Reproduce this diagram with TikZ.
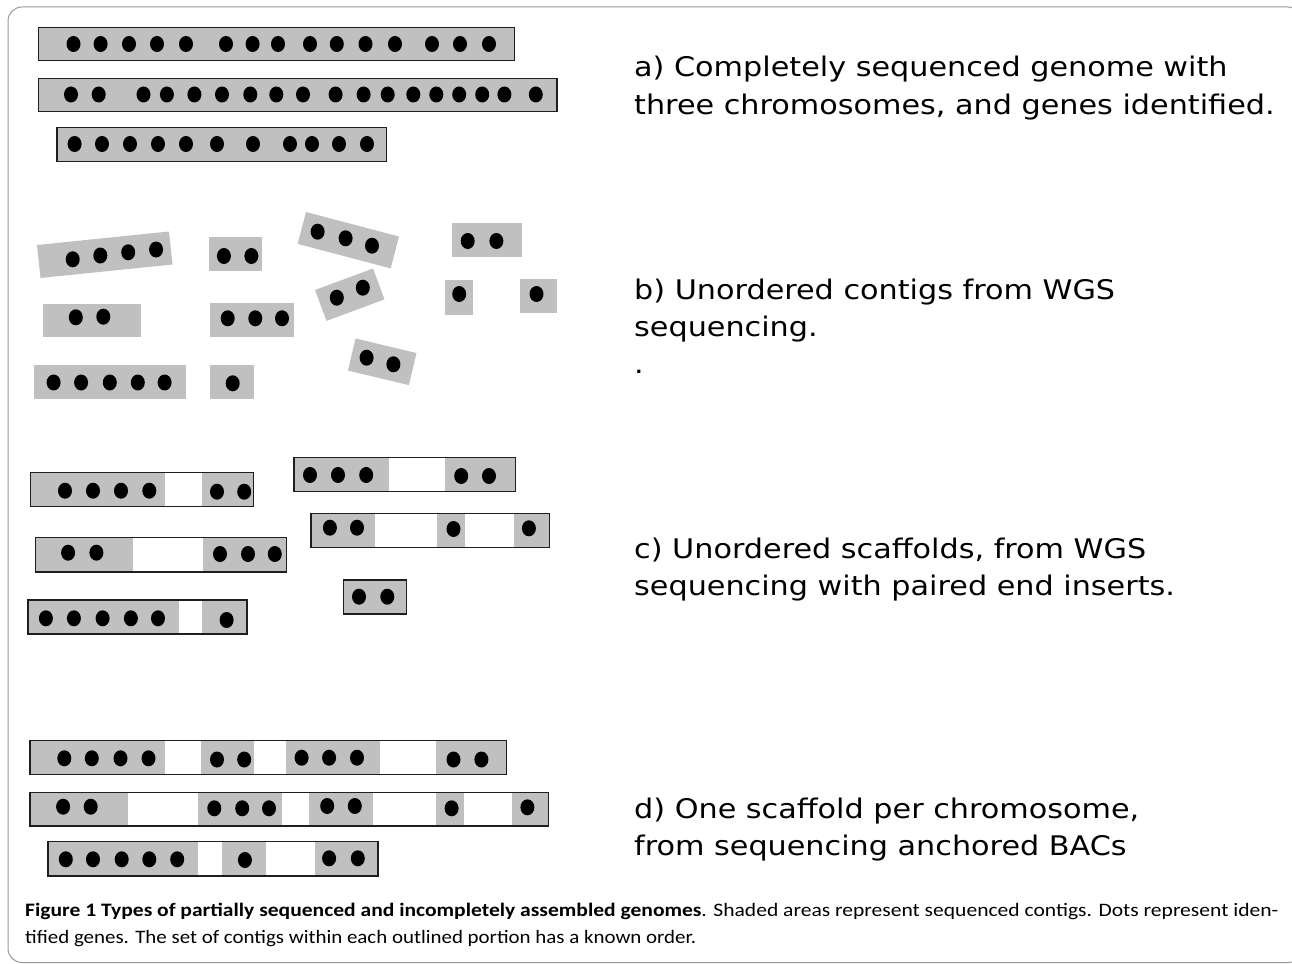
\documentclass[tikz,border=0pt]{standalone}
\usepackage{fontspec}
\usepackage{graphicx}
\newfontfamily\labfont{DejaVu Sans}
\newfontfamily\capfont{Carlito}
\definecolor{contiggray}{HTML}{C0C0C0}
\definecolor{edgec}{HTML}{1E1E1E}
\definecolor{framec}{HTML}{9A9A9A}
\newcommand\gdot[2]{\fill[gene] (#1,#2) ellipse (7 and 8);}
\newcommand\cseg[4]{\fill[contig] (#1,#2) rectangle (#3,#4);}
\newcommand\obox[4]{\draw[outline] (#1,#2) rectangle (#3,#4);}
\begin{document}
\begin{tikzpicture}[x=1pt,y=-1pt,
  contig/.style={fill=contiggray},
  outline/.style={draw=edgec, line width=1.4pt},
  gene/.style={fill=black},
  framebox/.style={draw=framec, line width=1pt, rounded corners=14pt},
  lab/.style={anchor=base west, inner sep=0pt, font=\labfont\fontsize{27}{27}\selectfont},
  captext/.style={anchor=base west, inner sep=0pt, font=\capfont\fontsize{19}{19}\selectfont}]
\useasboundingbox (0,0) rectangle (1292,963);
\clip (0,0) rectangle (1292,963);
\draw[framebox] (8,7) rectangle (1302,962.5);

% ---- a) complete chromosomes
\cseg{38.5}{27.5}{514.5}{60.5}\obox{38.5}{27.5}{514.5}{60.5}
\foreach \x in {73.5,100.6,129,157,186,226,252.6,278,310,336.8,365.5,395,432,460,489} {\gdot{\x}{44}}
\cseg{38.5}{78.5}{557}{111.5}\obox{38.5}{78.5}{557}{111.5}
\foreach \x in {71,98.7,143.5,166.9,194.4,222,250.3,276.3,303,335.6,363.6,387.7,413.3,436.3,459.2,482.2,504.4,535.8} {\gdot{\x}{94.5}}
\cseg{57}{127.5}{386.5}{161.5}\obox{57}{127.5}{386.5}{161.5}
\foreach \x in {74.6,102,130,158,186,217,253,290,312,339,367} {\gdot{\x}{144}}

% ---- b) unordered contigs
\fill[contig] (37,245) -- (169,231.5) -- (172.5,264.5) -- (40.5,278) -- cycle;
\gdot{72.7}{259.3}\gdot{100.3}{255.5}\gdot{128.2}{252.3}\gdot{156.1}{249.5}
\cseg{208.6}{236.7}{262.2}{270.7}
\gdot{223.9}{256}\gdot{251.4}{256}
\fill[contig] (306,212) -- (399,236.5) -- (390.7,268.4) -- (297.7,243.9) -- cycle;
\gdot{317.6}{231.7}\gdot{345.6}{238.3}\gdot{372}{245.7}
\cseg{451.6}{222.7}{521.6}{256.7}
\gdot{467.7}{241}\gdot{496.4}{241}
\fill[contig] (315,290) -- (373,268.5) -- (384.5,299.4) -- (326.5,320.9) -- cycle;
\gdot{336.8}{297.7}\gdot{362.8}{287.7}
\cseg{444.7}{280}{473}{314.7}\gdot{459.2}{294}
\cseg{519.7}{279}{556.8}{312.7}\gdot{536.5}{294}
\cseg{42.9}{304}{140.8}{337.3}
\gdot{75.8}{317.3}\gdot{103.3}{316.7}
\cseg{209.7}{302.7}{293.9}{336.7}
\foreach \x in {227.7,255.3,282} {\gdot{\x}{318.3}}
\fill[contig] (355.5,338.5) -- (416.5,353) -- (408.9,385.1) -- (347.9,370.6) -- cycle;
\gdot{366.6}{357.7}\gdot{393.4}{364.3}
\cseg{34.4}{365}{185.6}{399.3}
\foreach \x in {53.6,81.1,109.8,137.8,164.6} {\gdot{\x}{382.5}}
\cseg{209.7}{365}{253.7}{399.3}\gdot{232.7}{383.3}

% ---- c) unordered scaffolds
\cseg{30.6}{472.7}{164.6}{506.7}\cseg{202}{472.7}{253.3}{506.7}
\obox{30.6}{472.7}{253.3}{506.7}
\foreach \x in {65,93,121,149.3} {\gdot{\x}{490.7}}
\gdot{217}{491.7}\gdot{244.2}{491.7}

\cseg{35.2}{537.7}{133.2}{572}\cseg{203.2}{537.7}{286.3}{572}
\obox{35.2}{537.7}{286.3}{572}
\gdot{68.1}{552.7}\gdot{96.4}{552.7}
\foreach \x in {220,248,274.8} {\gdot{\x}{554}}

\cseg{27.9}{600}{179.1}{634}\cseg{202}{600}{246.8}{634}
\obox{27.9}{600}{246.8}{634}
\foreach \x in {45.9,73.9,102.6,130.9,158} {\gdot{\x}{618.3}}
\gdot{226.6}{620}

\cseg{293.9}{457.3}{389.2}{491.3}\cseg{445}{457.3}{515.5}{491.3}
\obox{293.9}{457.3}{515.5}{491.3}
\foreach \x in {310,338,366.2} {\gdot{\x}{475}}
\gdot{461.2}{476}\gdot{489}{476}

\cseg{310.8}{513.3}{375}{547.3}\cseg{437}{513.3}{465}{547.3}\cseg{514}{513.3}{549.2}{547.3}
\obox{310.8}{513.3}{549.2}{547.3}
\gdot{329.9}{527.7}\gdot{357}{527.7}\gdot{453.5}{529}\gdot{528.9}{528.3}

\cseg{343.3}{580}{406.4}{614}\obox{343.3}{580}{406.4}{614}
\gdot{359}{596.7}\gdot{387.3}{596.7}

% ---- d) one scaffold per chromosome
\cseg{29.9}{740.7}{164.6}{774.3}\cseg{200.9}{740.7}{253.7}{774.3}
\cseg{285.9}{740.7}{380}{774.3}\cseg{436.3}{740.7}{506.3}{774.3}
\obox{29.9}{740.7}{506.3}{774.3}
\foreach \x in {64.3,91.8,120.5,148.5} {\gdot{\x}{758.3}}
\gdot{217}{759.5}\gdot{244.2}{759.5}
\foreach \x in {301.6,329.1,357} {\gdot{\x}{757.7}}
\gdot{453.5}{759.5}\gdot{481.4}{759.5}

\cseg{29.9}{792.3}{128.2}{826}\cseg{197.9}{792.3}{282}{826}\cseg{309.2}{792.3}{373.1}{826}
\cseg{436.3}{792.3}{464.2}{826}\cseg{512}{792.3}{548.4}{826}
\obox{29.9}{792.3}{548.4}{826}
\gdot{63.1}{806.7}\gdot{90.7}{806.7}
\foreach \x in {214.3,242.2,269} {\gdot{\x}{808.3}}
\gdot{327.2}{806}\gdot{354.8}{806}
\gdot{451.6}{808.3}\gdot{527.4}{807.3}

\cseg{47.8}{841.7}{197.9}{876}\cseg{222}{841.7}{266}{876}\cseg{315}{841.7}{378.1}{876}
\obox{47.8}{841.7}{378.1}{876}
\foreach \x in {65.8,93,121.7,149.3,177.2} {\gdot{\x}{859.3}}
\gdot{244.9}{860}
\gdot{329.1}{858.3}\gdot{357.8}{858.3}

% ---- labels
\node[lab] (la1) at (634,77)  {\scalebox{1.12}[1]{a) Completely sequenced genome with}};
\node[lab] (la2) at (634,114) {\scalebox{1.12}[1]{three chromosomes, and genes identified.}};
\node[lab] (lb1) at (634,299) {\scalebox{1.12}[1]{b) Unordered contigs from WGS}};
\node[lab] (lb2) at (634,336) {\scalebox{1.12}[1]{sequencing.}};
\node[lab] (lb3) at (634,373) {\scalebox{1.12}[1]{.}};
\node[lab] (lc1) at (634,558) {\scalebox{1.12}[1]{c) Unordered scaffolds, from WGS}};
\node[lab] (lc2) at (634,595) {\scalebox{1.12}[1]{sequencing with paired end inserts.}};
\node[lab] (ld1) at (634,818) {\scalebox{1.12}[1]{d) One scaffold per chromosome,}};
\node[lab] (ld2) at (634,855) {\scalebox{1.12}[1]{from sequencing anchored BACs}};

% ---- caption
\node[captext] (cap1) at (25,916) {\resizebox{1253pt}{\height}{\textbf{Figure 1 Types of partially sequenced and incompletely assembled genomes}. Shaded areas represent sequenced contigs. Dots represent iden-}};
\node[captext] (cap2) at (25,943) {\resizebox{671pt}{\height}{tified genes. The set of contigs within each outlined portion has a known order.}};
\end{tikzpicture}
\end{document}
